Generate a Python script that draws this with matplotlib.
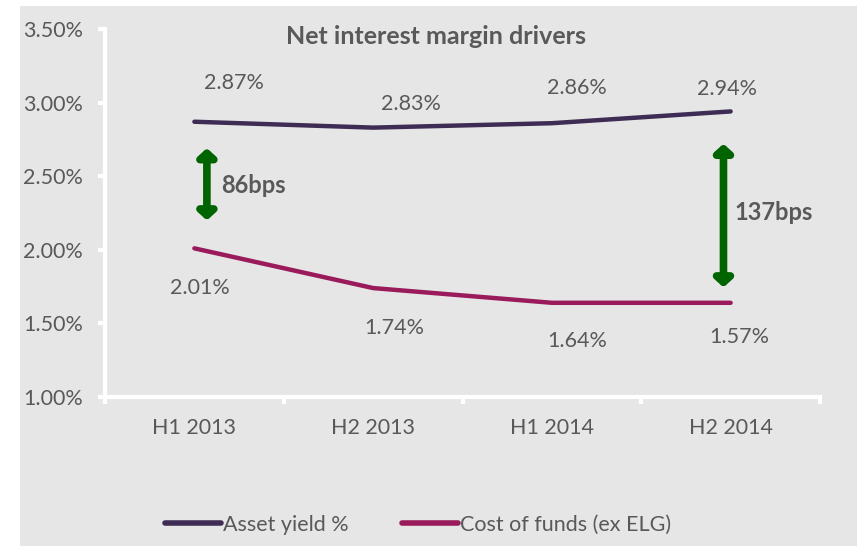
import matplotlib.pyplot as plt
from matplotlib.patches import Rectangle
from matplotlib.lines import Line2D

plt.rcParams['font.family'] = ['Lato', 'DejaVu Sans']

periods = ['H1 2013', 'H2 2013', 'H1 2014', 'H2 2014']
asset_yield = [2.87, 2.83, 2.86, 2.94]
cost_of_funds = [2.01, 1.74, 1.64, 1.64]
asset_labels = ['2.87%', '2.83%', '2.86%', '2.94%']
cost_labels = ['2.01%', '1.74%', '1.64%', '1.57%']
yticks = [1.0, 1.5, 2.0, 2.5, 3.0, 3.5]

BG = '#e6e6e6'
TXT = '#595959'
C_ASSET = '#3f2c55'
C_COST = '#9a1b5b'
GREEN = '#006400'
FS = 15.5

W, H = 857, 547
fig = plt.figure(figsize=(W / 100, H / 100), dpi=100)
fig.patch.set_facecolor('white')
fig.patches.append(Rectangle((20 / W, 1 - 546 / H), (W - 20) / W, 540 / H,
                             transform=fig.transFigure, facecolor=BG,
                             edgecolor='none', zorder=-10))

ax = fig.add_axes([105 / W, 1 - 397 / H, (820 - 105) / W, (397 - 29) / H])
ax.set_facecolor('none')
x = list(range(len(periods)))

ax.plot(x, asset_yield, color=C_ASSET, lw=3.2, solid_capstyle='round', label='Asset yield %')
ax.plot(x, cost_of_funds, color=C_COST, lw=3.2, solid_capstyle='round', label='Cost of funds (ex ELG)')

ax.set_xlim(-0.5, 3.5)
ax.set_ylim(1.0, 3.5)
ax.set_yticks(yticks)
ax.set_yticklabels([f'{v:.2f}%' for v in yticks])
ax.set_xticks(x)
ax.set_xticklabels(periods)
ax.set_xticks([-0.5, 0.5, 1.5, 2.5, 3.5], minor=True)
ax.tick_params(axis='x', which='major', length=0, pad=15, labelsize=FS, labelcolor=TXT)
ax.tick_params(axis='x', which='minor', length=5, width=3, color='white', direction='out')
ax.tick_params(axis='y', length=5, width=3, color='white', pad=11, labelsize=FS, labelcolor=TXT)

for s in ['top', 'right']:
    ax.spines[s].set_visible(False)
for s in ['left', 'bottom']:
    ax.spines[s].set_color('white')
    ax.spines[s].set_linewidth(3)

# data labels
a_off = [(0.22, 0.26), (0.21, 0.16), (0.14, 0.24), (-0.02, 0.15)]
c_off = [(0.03, -0.27), (0.12, -0.27), (0.14, -0.26), (0.05, -0.23)]
for i in x:
    ax.text(i + a_off[i][0], asset_yield[i] + a_off[i][1], asset_labels[i],
            ha='center', va='center', fontsize=FS, color=TXT)
    ax.text(i + c_off[i][0], cost_of_funds[i] + c_off[i][1], cost_labels[i],
            ha='center', va='center', fontsize=FS, color=TXT)

ax.text(1.35, 3.45, 'Net interest margin drivers', ha='center', va='center',
        fontsize=18, fontweight='bold', color=TXT)

# spread arrows
arrow_style = dict(arrowstyle='<|-|>,head_length=0.45,head_width=0.5',
                   lw=5.5, color=GREEN, shrinkA=0, shrinkB=0)
ax.annotate('', xy=(0.07, 2.69), xytext=(0.07, 2.20), arrowprops=arrow_style)
ax.annotate('', xy=(2.96, 2.72), xytext=(2.96, 1.745), arrowprops=arrow_style)
ax.text(0.15, 2.44, '86bps', ha='left', va='center', fontsize=17, fontweight='bold', color=TXT)
ax.text(3.02, 2.25, '137bps', ha='left', va='center', fontsize=17, fontweight='bold', color=TXT)

handles = [Line2D([], [], color=C_ASSET, lw=4, solid_capstyle='round'),
           Line2D([], [], color=C_COST, lw=4, solid_capstyle='round')]
fig.legend(handles, ['Asset yield %', 'Cost of funds (ex ELG)'], loc='center',
           bbox_to_anchor=(418 / W, 1 - 525 / H), ncol=2, frameon=False,
           fontsize=FS, labelcolor=TXT, handlelength=2.6, handletextpad=0.1,
           columnspacing=2.5)

fig.savefig('out.png', dpi=100, facecolor=fig.get_facecolor())
